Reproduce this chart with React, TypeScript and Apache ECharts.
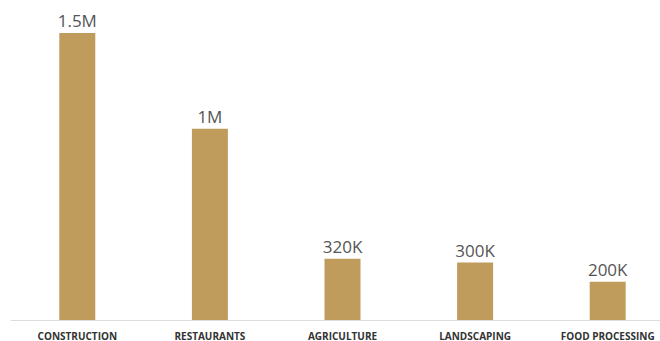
import React, { useEffect, useRef } from "react";
import * as echarts from "echarts";

const categories = ["CONSTRUCTION", "RESTAURANTS", "AGRICULTURE", "LANDSCAPING", "FOOD PROCESSING"];
const values = [1500000, 1000000, 320000, 300000, 200000];
const valueLabels = ["1.5M", "1M", "320K", "300K", "200K"];

export default function App() {
  const ref = useRef<HTMLDivElement>(null);
  useEffect(() => {
    const chart = echarts.init(ref.current!, null, { renderer: "svg" });
    chart.setOption({
      animation: false,
      grid: {
        left: 11,
        width: 663,
        top: 0,
        height: 320,
        containLabel: false,
        outerBoundsMode: "none",
      },
      xAxis: {
        type: "category",
        data: categories,
        axisLine: { lineStyle: { color: "#dddddd", width: 1 } },
        axisTick: { show: false },
        axisLabel: {
          interval: 0,
          margin: 12,
          lineHeight: 8,
          color: "#333333",
          fontFamily: "Open Sans",
          fontWeight: "bold",
          fontSize: 10,
        },
      },
      yAxis: {
        type: "value",
        min: 0,
        max: 1673000,
        show: false,
        splitLine: { show: false },
      },
      series: [
        {
          type: "bar",
          data: values,
          barWidth: 36,
          itemStyle: { color: "#C09C5C" },
          label: {
            show: true,
            position: "top",
            distance: 4,
            color: "#555555",
            fontFamily: "Open Sans",
            fontSize: 17,
            formatter: (p: any) => valueLabels[p.dataIndex],
          },
        },
      ],
    });
    return () => chart.dispose();
  }, []);
  return (
    <div
      ref={ref}
      style={{ position: "fixed", left: 0, top: 0, width: 660, height: 341, background: "#fff" }}
    />
  );
}
